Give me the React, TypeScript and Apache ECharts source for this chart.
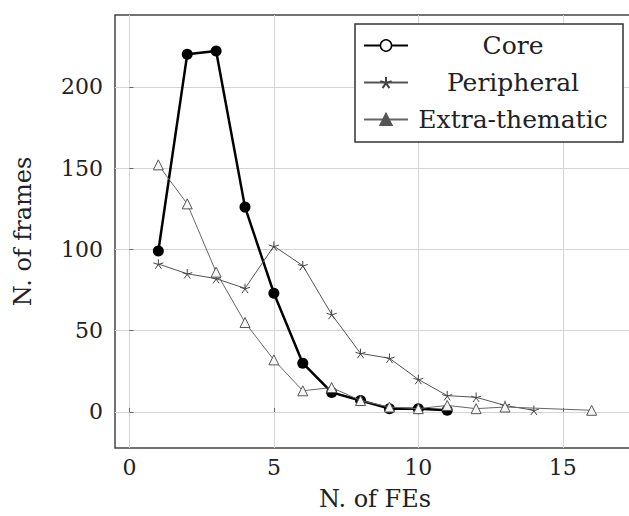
import React, { useEffect, useRef } from "react";
import * as echarts from "echarts";

const coreData: [number, number][] = [
  [1, 99], [2, 220], [3, 222], [4, 126], [5, 73], [6, 30], [7, 12], [8, 7], [9, 2], [10, 2], [11, 1],
];
const peripheralData: [number, number][] = [
  [1, 91], [2, 85], [3, 82], [4, 76], [5, 102], [6, 90], [7, 60], [8, 36], [9, 33], [10, 20], [11, 10], [12, 9], [13, 4], [14, 1],
];
const extraData: [number, number][] = [
  [1, 152], [2, 128], [3, 86], [4, 55], [5, 32], [6, 13], [7, 15], [8, 7], [9, 3], [10, 2], [11, 4], [12, 2], [13, 3], [16, 1],
];
const xTicks = [0, 5, 10, 15];
const yTicks = [0, 50, 100, 150, 200];
const seriesNames = ["Core", "Peripheral", "Extra-thematic"];

const FONT = "DejaVu Serif";
const STAR = "path://M0,0L0,-10M0,0L-9.51,-3.09M0,0L-5.88,8.09M0,0L5.88,8.09M0,0L9.51,-3.09";

export default function App() {
  const ref = useRef<HTMLDivElement>(null);
  useEffect(() => {
    if (!ref.current) return;
    const chart = echarts.init(ref.current, undefined, { renderer: "svg" });
    chart.setOption({
      animation: false,
      backgroundColor: "#fff",
      grid: {
        left: 115,
        top: 15,
        width: 520,
        height: 433,
        outerBoundsMode: "none",
        containLabel: false,
        show: true,
        borderColor: "#444",
        borderWidth: 1.5,
        backgroundColor: "transparent",
      },
      xAxis: {
        type: "value",
        min: -0.5,
        max: 17.5,
        name: "N. of FEs",
        nameLocation: "middle",
        nameGap: 39,
        nameTextStyle: { fontFamily: FONT, fontSize: 24, color: "#222" },
        axisLine: { show: false },
        axisTick: { show: true, inside: true, length: 4, customValues: xTicks, lineStyle: { color: "#666" } },
        axisLabel: { customValues: xTicks, fontFamily: FONT, fontSize: 22, color: "#222", margin: 8 },
        splitLine: { show: true, lineStyle: { color: "#d4d4d4", width: 1 } },
      },
      yAxis: {
        type: "value",
        min: -22.2,
        max: 244.2,
        name: "N. of frames",
        nameLocation: "middle",
        nameGap: 80,
        nameTextStyle: { fontFamily: FONT, fontSize: 24, color: "#222" },
        axisLine: { show: false },
        axisTick: { show: true, inside: true, length: 4, customValues: yTicks, lineStyle: { color: "#666" } },
        axisLabel: { customValues: yTicks, fontFamily: FONT, fontSize: 22, color: "#222", margin: 12 },
        splitLine: { show: true, lineStyle: { color: "#d4d4d4", width: 1 } },
      },
      legend: {
        orient: "vertical",
        left: 355,
        top: 24,
        padding: [9, 10, 10, 8],
        itemGap: 12,
        itemWidth: 44,
        itemHeight: 14,
        borderColor: "#333",
        borderWidth: 1.5,
        backgroundColor: "#fff",
        data: [
          { name: seriesNames[0], itemStyle: { color: "#fff", borderColor: "#000", borderWidth: 1.5 } },
          { name: seriesNames[1] },
          { name: seriesNames[2], itemStyle: { color: "#555", borderColor: "#555" } },
        ],
        formatter: (n: string) => `{t|${n}}`,
        textStyle: {
          rich: {
            t: { width: 200, align: "center", fontFamily: FONT, fontSize: 25, color: "#222", lineHeight: 26 },
          },
        },
      },
      series: [
        {
          name: seriesNames[0],
          type: "line",
          data: coreData,
          symbol: "circle",
          symbolSize: 11,
          lineStyle: { color: "#000", width: 2.5 },
          itemStyle: { color: "#000" },
          z: 3,
        },
        {
          name: seriesNames[1],
          type: "line",
          data: peripheralData,
          symbol: STAR,
          symbolSize: 10,
          symbolKeepAspect: true,
          lineStyle: { color: "#555", width: 1 },
          itemStyle: { color: "rgba(0,0,0,0)", borderColor: "#444", borderWidth: 1 },
          z: 4,
        },
        {
          name: seriesNames[2],
          type: "line",
          data: extraData,
          symbol: "triangle",
          symbolSize: 10,
          lineStyle: { color: "#666", width: 1 },
          itemStyle: { color: "#f6f6f6", borderColor: "#555", borderWidth: 1 },
          z: 5,
        },
      ],
    });
    return () => chart.dispose();
  }, []);
  return (
    <div
      ref={ref}
      style={{ position: "absolute", left: 0, top: 0, width: 629, height: 516, overflow: "hidden", background: "#fff" }}
    />
  );
}
